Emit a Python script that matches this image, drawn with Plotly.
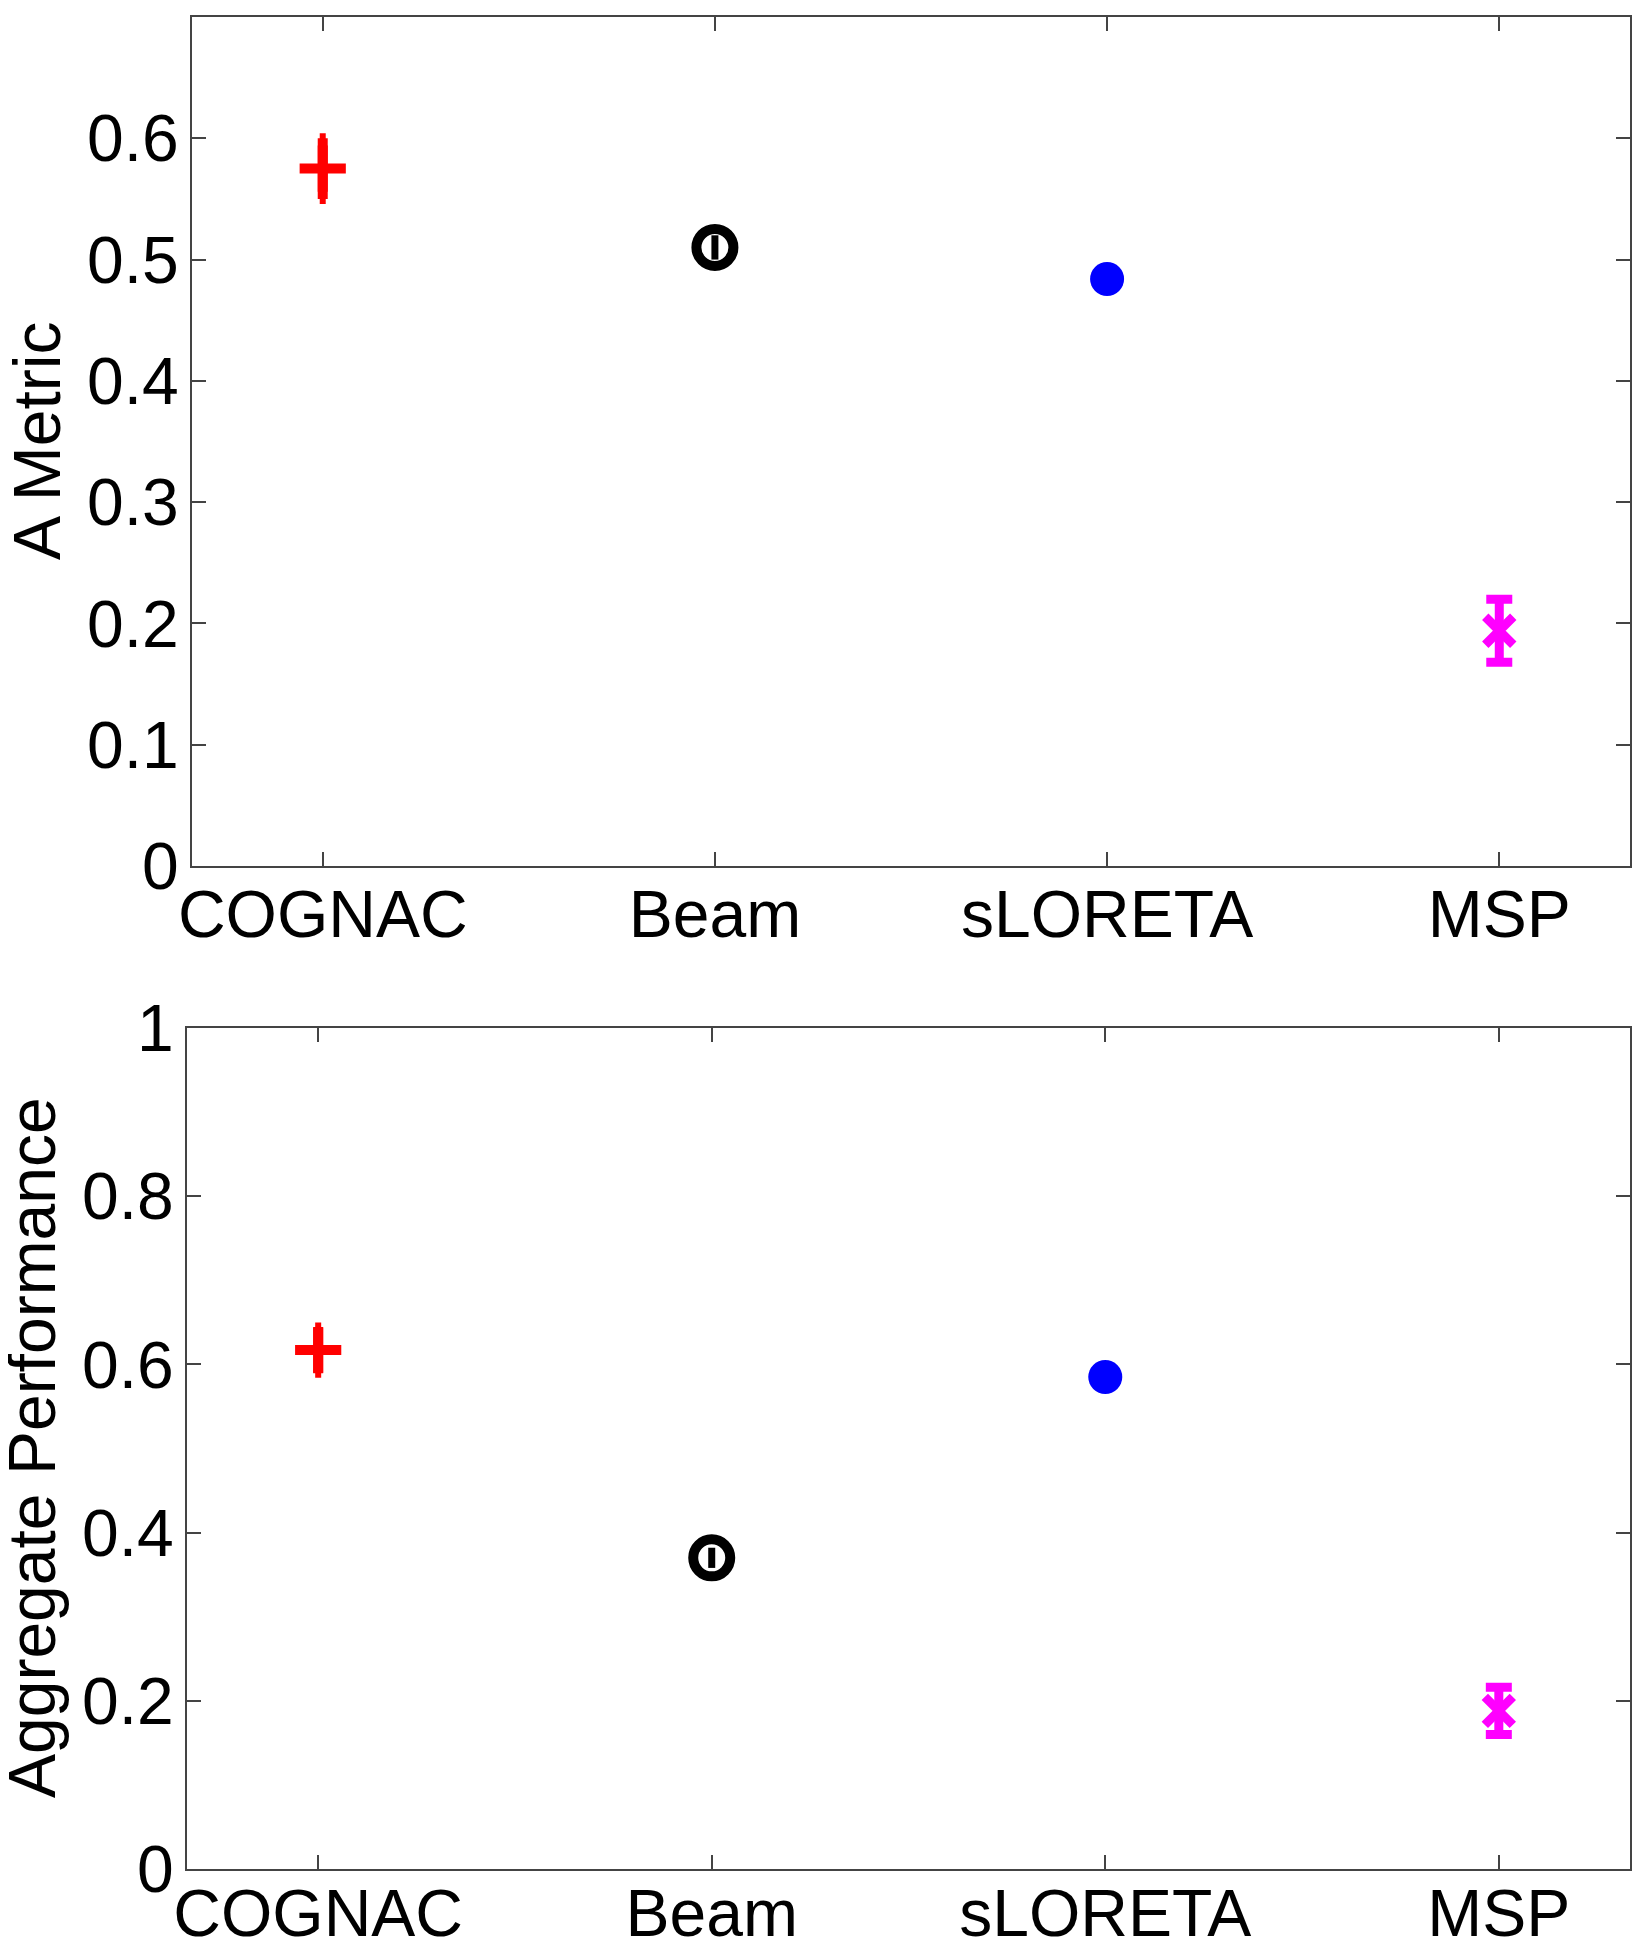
import plotly.graph_objects as go

methods = ["COGNAC", "Beam", "sLORETA", "MSP"]
positions = [1, 2, 3, 4]
a_metric = [0.575, 0.510, 0.484, 0.194]
a_metric_err = [0.025, 0.010, 0.003, 0.026]
aggregate = [0.617, 0.370, 0.585, 0.188]
aggregate_err = [0.027, 0.012, 0.003, 0.028]
top_yticks = [0, 0.1, 0.2, 0.3, 0.4, 0.5, 0.6]
bottom_yticks = [0, 0.2, 0.4, 0.6, 0.8, 1]

colors = ["#ff0000", "#000000", "#0000ff", "#ff00ff"]
symbols = ["cross-thin", "circle-open", "circle", "x-thin"]
msizes = [33, 37, 34, 28]
mlines = [10, 10, 0, 9]
caps = [3, 0, 0, 13]
errthick = [10, 7, 2, 9]

W, H = 1645, 1950
OFF = 8  # page body margin


def px_x(v):
    return (v - OFF) / W


def px_y(v):
    return 1 - (v - OFF) / H


fig = go.Figure()


def add_panel(vals, errs, xa, ya):
    for i in range(len(methods)):
        fig.add_trace(go.Scatter(
            x=[positions[i]], y=[vals[i]], mode="markers",
            xaxis=xa, yaxis=ya, showlegend=False,
            error_y=dict(type="data", array=[errs[i]], visible=True,
                         color=colors[i], thickness=errthick[i], width=caps[i]),
            marker=dict(symbol=symbols[i], size=msizes[i], color=colors[i],
                        line=dict(color=colors[i], width=mlines[i]))))


add_panel(a_metric, a_metric_err, "x", "y")
add_panel(aggregate, aggregate_err, "x2", "y2")

font = dict(family="Liberation Sans, Arial, sans-serif", size=66, color="black")
axcol = "#444444"
common = dict(showline=True, linecolor=axcol, linewidth=2, mirror="ticks",
              ticks="inside", ticklen=14, tickwidth=2, tickcolor=axcol,
              showgrid=False, zeroline=False, tickfont=font, automargin=False)

fig.update_layout(
    width=W, height=H, paper_bgcolor="white", plot_bgcolor="white",
    margin=dict(l=0, r=0, t=0, b=0, autoexpand=False),
    xaxis=dict(domain=[px_x(192), px_x(1630)], range=[2 / 3, 13 / 3],
               tickvals=positions, ticktext=methods, anchor="y",
               ticklabelstandoff=-10, **common),
    yaxis=dict(domain=[px_y(866), px_y(17)], range=[0, 0.7],
               tickvals=top_yticks, ticktext=[f"{v:g}" for v in top_yticks],
               anchor="x", ticklabelstandoff=-2, **common),
    xaxis2=dict(domain=[px_x(187), px_x(1630)], range=[2 / 3, 13 / 3],
                tickvals=positions, ticktext=methods, anchor="y2",
                ticklabelstandoff=-14, **common),
    yaxis2=dict(domain=[px_y(1869), px_y(1028)], range=[0, 1],
                tickvals=bottom_yticks, ticktext=[f"{v:g}" for v in bottom_yticks],
                anchor="x2", ticklabelstandoff=-2, **common),
    annotations=[
        dict(text="A Metric", xref="paper", yref="paper", x=px_x(37),
             y=px_y(441), textangle=-90, showarrow=False, font=font,
             xanchor="center", yanchor="middle"),
        dict(text="Aggregate Performance", xref="paper", yref="paper", x=px_x(32),
             y=px_y(1448), textangle=-90, showarrow=False, font=font,
             xanchor="center", yanchor="middle"),
    ],
)

fig.write_html("out.html")
